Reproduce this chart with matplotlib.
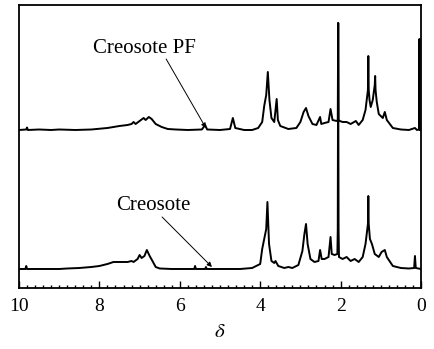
import matplotlib.pyplot as plt
from matplotlib.ticker import MultipleLocator

# chemical shifts (ppm) and intensities
# upper trace: Creosote PF
pf_ppm = [10.0, 9.82, 9.8, 9.78, 9.5, 9.2, 9.0, 8.6, 8.2, 7.8, 7.5, 7.3, 7.2, 7.15,
          7.1, 7.0, 6.9, 6.85, 6.77, 6.7, 6.6, 6.45, 6.3, 6.1, 5.8, 5.45, 5.37, 5.32,
          5.0, 4.75, 4.68, 4.62, 4.4, 4.2, 4.05, 3.95, 3.9, 3.85, 3.81, 3.77, 3.72,
          3.65, 3.59, 3.56, 3.5, 3.3, 3.1, 3.0, 2.92, 2.86, 2.8, 2.7, 2.6, 2.51,
          2.48, 2.4, 2.3, 2.25, 2.2, 2.1, 2.07, 2.06, 2.05, 2.02, 1.95, 1.85, 1.75,
          1.62, 1.55, 1.45, 1.38, 1.32, 1.31, 1.30, 1.28, 1.25, 1.2, 1.15, 1.14,
          1.13, 1.1, 1.05, 0.95, 0.9, 0.85, 0.7, 0.5, 0.3, 0.15, 0.1, 0.05, 0.04,
          0.03, 0.0]
pf_int = [0, 0.5, 2.5, 0, 0.5, 0, 0.5, 0, 0.5, 2, 4, 5, 6, 8,
          6, 9, 12, 10, 13, 11, 6, 3, 1, 0.5, 0, 0.5, 5, 0.5,
          0, 1, 12, 2, 0, 0, 2, 8, 24, 35, 58, 30, 12,
          8, 31, 10, 4, 1, 2, 8, 18, 22, 14, 6, 5, 13,
          6, 7, 8, 21, 10, 9, 10, 107, 10, 9, 8, 8, 6,
          9, 5, 10, 20, 40, 74, 40, 30, 23, 30, 45, 54,
          40, 28, 16, 12, 18, 10, 2, 0.5, 0, 2, 0, 0.5, 91,
          0, 0]

# lower trace: Creosote
cr_ppm = [10.0, 9.84, 9.82, 9.8, 9.5, 9.0, 8.8, 8.5, 8.2, 8.0, 7.8, 7.65, 7.5,
          7.3, 7.2, 7.15, 7.05, 7.0, 6.95, 6.88, 6.82, 6.75, 6.68, 6.6, 6.5, 6.2,
          5.9, 5.64, 5.62, 5.6, 5.37, 5.35, 5.33, 5.0, 4.5, 4.2, 4.0, 3.95, 3.9,
          3.85, 3.82, 3.78, 3.72, 3.65, 3.62, 3.55, 3.4, 3.3, 3.2, 3.05, 2.95,
          2.9, 2.86, 2.82, 2.75, 2.65, 2.55, 2.51, 2.47, 2.4, 2.3, 2.25, 2.22,
          2.15, 2.08, 2.07, 2.06, 2.05, 2.04, 1.95, 1.85, 1.75, 1.65, 1.55, 1.45,
          1.38, 1.32, 1.31, 1.30, 1.27, 1.22, 1.15, 1.05, 0.98, 0.9, 0.85, 0.7,
          0.5, 0.3, 0.17, 0.15, 0.13, 0.0]
cr_int = [0, 0, 3, 0, 0, 0, 0.5, 1, 2, 3, 5, 7, 7,
          7, 8, 7, 10, 14, 11, 13, 19, 13, 8, 2, 0.5, 0,
          0, 0, 3, 0, 0, 2, 0, 0, 0, 1, 5, 20, 30,
          40, 67, 25, 8, 6, 8, 3, 1, 2, 1, 4, 18,
          35, 45, 25, 10, 7, 8, 19, 10, 10, 12, 32, 15,
          14, 15, 40, 246, 40, 12, 10, 12, 8, 10, 7, 12,
          25, 45, 73, 45, 30, 25, 15, 12, 17, 19, 12, 3,
          1, 0.5, 1, 13, 1, 0]

labels = ["Creosote PF", "Creosote"]

pf_base = 158
cr_base = 19

plt.rcParams['font.family'] = ['Liberation Serif', 'DejaVu Serif']
plt.rcParams['mathtext.fontset'] = 'stix'

fig = plt.figure(figsize=(4.34, 3.49), dpi=100)
ax = fig.add_axes([0.0438, 0.1748, 0.9262, 0.8109])

ax.plot(pf_ppm, [v + pf_base for v in pf_int], color='k', lw=1.4)
ax.plot(cr_ppm, [v + cr_base for v in cr_int], color='k', lw=1.4)

ax.set_xlim(10, 0)
ax.set_ylim(0, 283)
ax.xaxis.set_major_locator(MultipleLocator(2))
ax.xaxis.set_minor_locator(MultipleLocator(0.2))
ax.tick_params(axis='x', which='major', direction='in', length=5, width=1,
               labelsize=14, pad=7)
ax.tick_params(axis='x', which='minor', direction='in', length=2.5, width=1)
ax.set_yticks([])
for sp in ax.spines.values():
    sp.set_linewidth(1.3)
ax.set_xlabel(r'$\delta$', fontsize=15, labelpad=6)

# labels, with arrows pointing at the traces
arrow = dict(arrowstyle='-|>', color='k', lw=0.7, mutation_scale=7, shrinkA=0, shrinkB=0)
ax.text(6.87, 239, labels[0], fontsize=15, ha='center', va='center')
ax.annotate('', xy=(5.35, 160), xytext=(6.34, 229), arrowprops=arrow)
ax.text(6.67, 82, labels[1], fontsize=15, ha='center', va='center')
ax.annotate('', xy=(5.2, 21), xytext=(6.44, 71), arrowprops=arrow)

fig.savefig('out.png', dpi=100)
